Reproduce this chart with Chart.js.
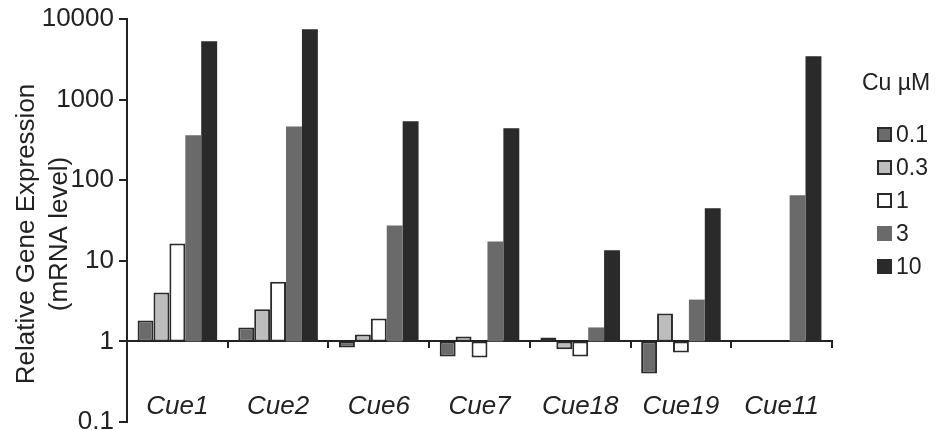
<!DOCTYPE html>
<html>
<head>
<meta charset="utf-8">
<script src="https://cdn.jsdelivr.net/npm/chart.js@4.4.1/dist/chart.umd.min.js"></script>
<style>
  html, body { margin: 0; padding: 0; background: #fff; }
  #wrap { position: relative; width: 944px; height: 430px; }
  #legend {
    position: absolute; left: 862px; top: 69px;
    font-family: "Liberation Sans", Arial, sans-serif; color: #222;
  }
  #legend .title { font-size: 23px; height: 33px; margin-bottom: 16px; }
  #legend .item { display: flex; align-items: center; height: 33px; font-size: 23px; padding-left: 15px; }
  #legend .box { width: 15px; height: 15px; box-sizing: border-box; margin-right: 4px; }
</style>
</head>
<body>
<div id="wrap">
  <canvas id="mainChart" width="944" height="430"></canvas>
  <div id="legend"></div>
</div>
<script>
const genes = ["Cue1", "Cue2", "Cue6", "Cue7", "Cue18", "Cue19", "Cue11"];
const doses = ["0.1", "0.3", "1", "3", "10"];
const yTicks = [0.1, 1, 10, 100, 1000, 10000];

// relative expression, bars grow up or down from 1
const cu01 = [1.82, 1.49, 0.84, 0.65, 1.12, 0.40, null];
const cu03 = [4.05, 2.5, 1.22, 1.15, 0.80, 2.22, null];
const cu1 = [16.4, 5.5, 1.93, 0.63, 0.65, 0.73, null];
const cu3 = [360, 465, 27.5, 17.4, 1.49, 3.3, 65];
const cu10 = [5300, 7450, 537, 440, 13.5, 45, 3450];

const fills = ["#6b6b6b", "#bdbdbd", "#ffffff", "#6a6a6a", "#2a2a2a"];
const outlined = [true, true, true, false, false];
const series = [cu01, cu03, cu1, cu3, cu10];

const axisColor = "#222";
const font = "'Liberation Sans', Arial, Helvetica, sans-serif";

const datasets = series.map((vals, i) => ({
  label: doses[i],
  data: vals.map((v) => (v == null ? null : [1, v])),
  backgroundColor: fills[i],
  borderColor: "#2a2a2a",
  borderWidth: outlined[i] ? 2 : 0,
  borderSkipped: false,
  categoryPercentage: 0.79,
  barPercentage: 1.0,
}));

// no extra room for half labels, the padding below does it
const noPad = (s) => {
  s.paddingTop = 0;
  s.paddingBottom = 0;
  s.paddingLeft = 0;
  s.paddingRight = 0;
};

// y title, two lines
const yTitle = {
  id: "yTitle",
  afterDraw(chart) {
    const ctx = chart.ctx;
    ctx.save();
    ctx.fillStyle = axisColor;
    ctx.font = "26px " + font;
    ctx.textAlign = "center";
    ctx.textBaseline = "middle";
    ctx.translate(27, 234);
    ctx.rotate(-Math.PI / 2);
    ctx.fillText("Relative Gene Expression", 0, 0);
    ctx.fillText("(mRNA level)", 0, 33);
    ctx.restore();
  },
};

new Chart(document.getElementById("mainChart"), {
  type: "bar",
  data: { labels: genes, datasets: datasets },
  plugins: [yTitle],
  options: {
    responsive: false,
    animation: false,
    layout: { padding: { left: 0, top: 19, right: 112, bottom: 8 } },
    plugins: {
      legend: { display: false },
      tooltip: { enabled: false },
    },
    scales: {
      x: {
        type: "category",
        position: { y: 1 },
        offset: true,
        grid: {
          offset: true,
          drawOnChartArea: false,
          tickLength: 6,
          color: axisColor,
          lineWidth: 2,
        },
        border: { color: axisColor, width: 2 },
        ticks: {
          color: axisColor,
          font: { family: font, size: 26, style: "italic" },
          padding: 44,
          maxRotation: 0,
        },
        afterFit(s) {
          s.height = 0;
          noPad(s);
        },
      },
      y: {
        type: "logarithmic",
        min: 0.1,
        max: 10000,
        grid: {
          drawOnChartArea: false,
          tickLength: 8,
          color: axisColor,
          lineWidth: 2,
        },
        border: { color: axisColor, width: 2 },
        ticks: {
          color: axisColor,
          font: { family: font, size: 26 },
          padding: 5,
          callback: (v) => String(v),
        },
        afterBuildTicks(s) {
          s.ticks = yTicks.map((v) => ({ value: v }));
        },
        afterFit(s) {
          s.width = 127;
          noPad(s);
        },
      },
    },
  },
});

// legend on the right
const legend = document.getElementById("legend");
legend.innerHTML =
  '<div class="title">Cu \u00b5M</div>' +
  doses
    .map(
      (d, i) =>
        '<div class="item"><span class="box" style="background:' +
        fills[i] +
        ";border:" +
        (outlined[i] ? "2px solid #2a2a2a" : "none") +
        '"></span>' +
        d +
        "</div>"
    )
    .join("");
</script>
</body>
</html>
